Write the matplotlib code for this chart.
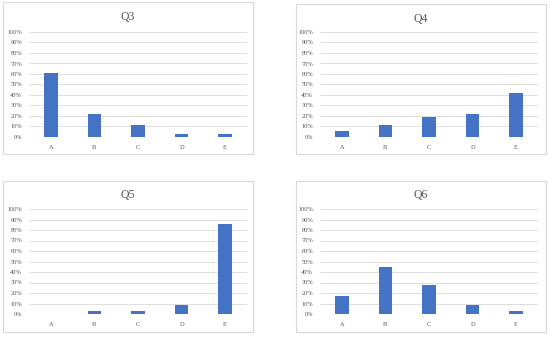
import numpy as np
import matplotlib
matplotlib.use("Agg")
import matplotlib.pyplot as plt
from matplotlib.patches import Rectangle
from matplotlib.ticker import PercentFormatter, MultipleLocator

# -------------------------- Data -------------------------------------
categories = ["A", "B", "C", "D", "E"]
titles = ["Q3", "Q4", "Q5", "Q6"]
q3 = [61.1, 22.2, 11.1, 2.8, 2.8]
q4 = [5.6, 11.1, 19.4, 22.2, 41.7]
q5 = [0.0, 2.8, 2.8, 8.3, 86.1]
q6 = [16.7, 44.4, 27.8, 8.3, 2.8]
series = [q3, q4, q5, q6]

# -------------------------- Style ------------------------------------
plt.rcParams.update({
    "font.family": ["Liberation Serif", "DejaVu Serif"],
})
BAR = "#4472C4"
GRID = "#D9D9D9"
TXT = "#595959"

W, H = 550, 337
fig = plt.figure(figsize=(W / 100, H / 100), dpi=100)

# panel frames (px, top-left origin) and plot areas
frames = [(3, 2, 250, 152), (296, 4, 250, 150), (3, 181, 250, 151), (296, 181, 250, 151)]
plots = [(29, 32, 218, 105), (320, 32, 218, 105), (29, 209, 218, 105), (320, 209, 218, 105)]

def fx(x): return x / W
def fy(y): return 1 - y / H

for (x0, y0, w, h), (px, py, pw, ph), title, vals in zip(frames, plots, titles, series):
    fig.patches.append(Rectangle((fx(x0), fy(y0 + h)), w / W, h / H,
                                 transform=fig.transFigure, fill=False,
                                 edgecolor=GRID, lw=0.8))
    ax = fig.add_axes([fx(px), fy(py + ph), pw / W, ph / H])
    x = np.arange(len(categories))
    ax.bar(x, vals, width=0.31, color=BAR, zorder=3)
    ax.set_xlim(-0.5, len(categories) - 0.5)
    ax.set_ylim(0, 100)
    ax.yaxis.set_major_locator(MultipleLocator(10))
    ax.yaxis.set_major_formatter(PercentFormatter(decimals=0))
    ax.set_xticks(x)
    ax.set_xticklabels(categories)
    ax.grid(axis="y", color=GRID, lw=0.6, zorder=0)
    for s in ax.spines.values():
        s.set_visible(False)
    ax.tick_params(axis="both", length=0, labelsize=4.6, colors=TXT)
    ax.tick_params(axis="y", pad=5)
    ax.tick_params(axis="x", pad=6)
    ax.set_title(title, fontsize=8.5, color=TXT, pad=0,
                 x=(x0 + w / 2 - px) / pw, y=1 + (py - (y0 + 17.5)) / ph)

fig.savefig("out.png", dpi=100)
